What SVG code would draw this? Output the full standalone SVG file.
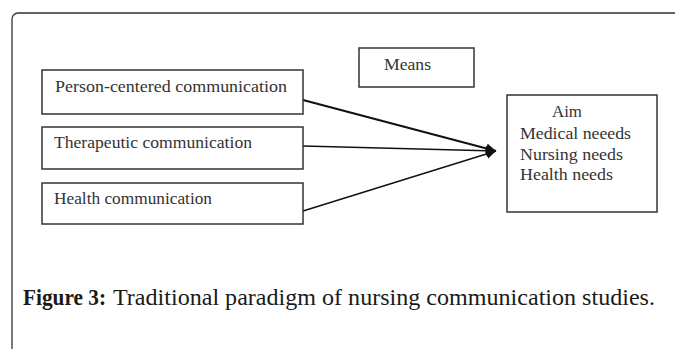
<svg xmlns="http://www.w3.org/2000/svg" width="675" height="349" viewBox="0 0 675 349">
<style>
.box{fill:#fff;stroke:#333;stroke-width:1.5}
.t{font-family:"Liberation Serif","Times New Roman",serif;font-size:17px;fill:#333}
.cap{font-family:"Liberation Serif","Times New Roman",serif;font-size:23px;fill:#1a1a1a}
.ln{stroke:#111;fill:none}
</style>
<defs>
<marker id="ah" viewBox="0 0 10 10" refX="10" refY="5" markerWidth="10" markerHeight="10" markerUnits="userSpaceOnUse" orient="auto">
<path d="M0,0 L10,5 L0,10 z" fill="#111"/>
</marker>
</defs>
<rect width="675" height="349" fill="#fff"/>
<rect x="12" y="13" width="720" height="400" rx="6" fill="none" stroke="#333" stroke-width="1.3"/>
<g id="connectors">
<line class="ln" x1="303" y1="100" x2="496" y2="151" stroke-width="2.2" marker-end="url(#ah)"/>
<line class="ln" x1="303" y1="146" x2="496" y2="151" stroke-width="1.5" marker-end="url(#ah)"/>
<line class="ln" x1="303" y1="211" x2="496" y2="151" stroke-width="1.5" marker-end="url(#ah)"/>
</g>
<g id="means">
<rect class="box" x="359" y="48" width="115" height="39"/>
<text class="t" x="384" y="70" textLength="47" lengthAdjust="spacingAndGlyphs">Means</text>
</g>
<g id="person">
<rect class="box" x="42" y="70" width="261" height="44"/>
<text class="t" x="55" y="92" textLength="232" lengthAdjust="spacingAndGlyphs">Person-centered communication</text>
</g>
<g id="therapeutic">
<rect class="box" x="42" y="127" width="261" height="42"/>
<text class="t" x="54" y="148" textLength="198" lengthAdjust="spacingAndGlyphs">Therapeutic communication</text>
</g>
<g id="health">
<rect class="box" x="42" y="183" width="261" height="41"/>
<text class="t" x="54" y="204" textLength="158" lengthAdjust="spacingAndGlyphs">Health communication</text>
</g>
<g id="aim">
<rect class="box" x="507" y="95" width="150" height="117"/>
<text class="t" x="552" y="117" textLength="30" lengthAdjust="spacingAndGlyphs">Aim</text>
<text class="t" x="520" y="139" textLength="111" lengthAdjust="spacingAndGlyphs">Medical neeeds</text>
<text class="t" x="520" y="160" textLength="103" lengthAdjust="spacingAndGlyphs">Nursing needs</text>
<text class="t" x="520" y="180" textLength="93" lengthAdjust="spacingAndGlyphs">Health needs</text>
</g>
<text class="cap" y="305"><tspan x="23" font-weight="bold" textLength="83" lengthAdjust="spacingAndGlyphs">Figure 3:</tspan><tspan x="113" textLength="542" lengthAdjust="spacingAndGlyphs">Traditional paradigm of nursing communication studies.</tspan></text>
</svg>
